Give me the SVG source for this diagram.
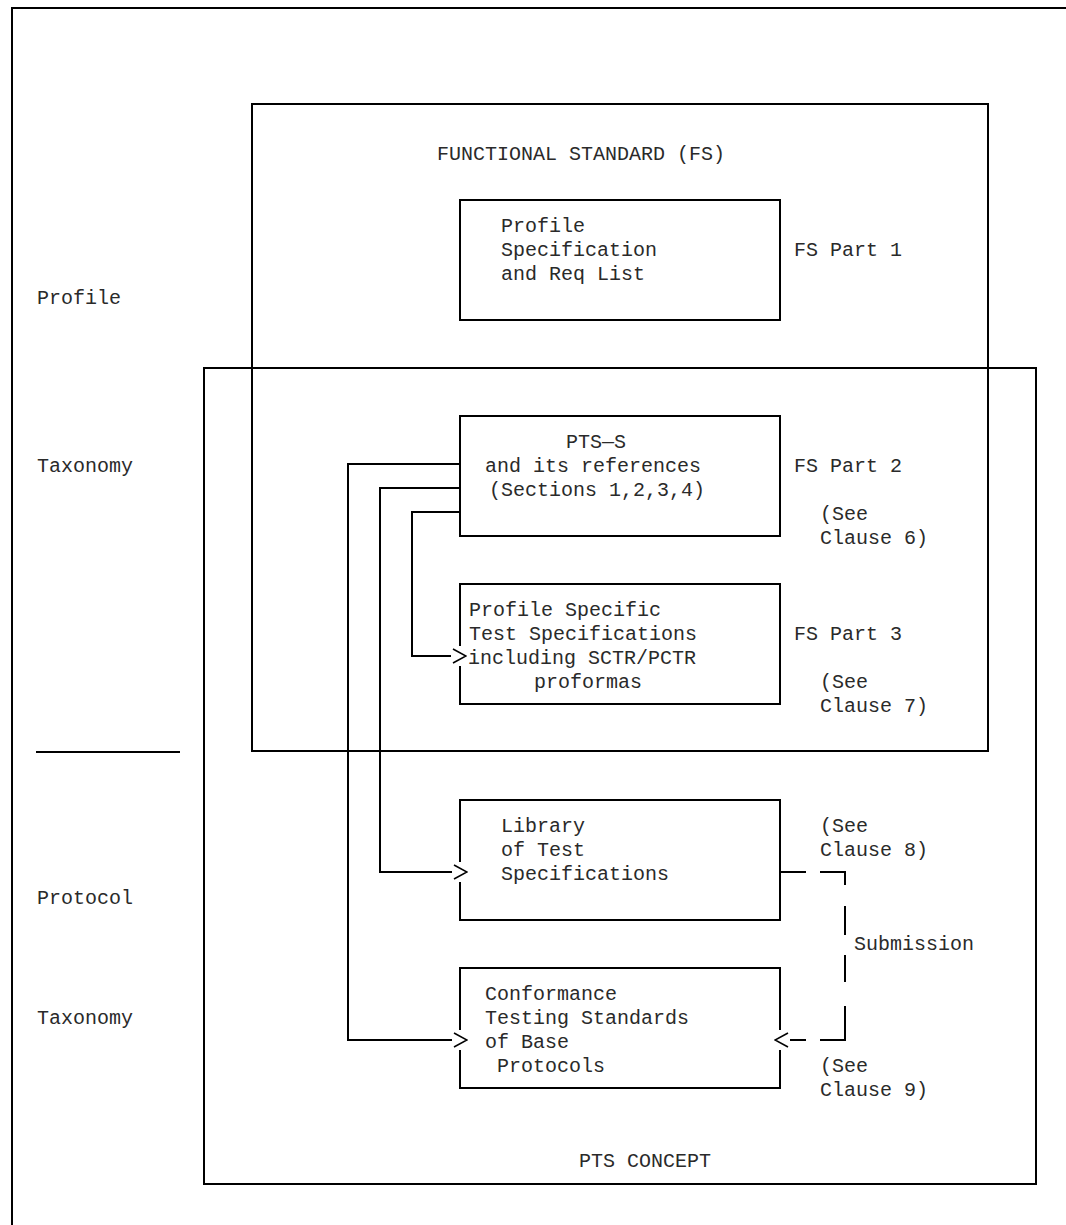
<svg xmlns="http://www.w3.org/2000/svg" width="1066" height="1225" viewBox="0 0 1066 1225">
<style>
.ln{fill:none;stroke:#000;stroke-width:2}
.t{font-family:"Liberation Mono","DejaVu Sans Mono",monospace;font-size:20px;fill:#2a2a2a}
</style>
<defs>
<marker id="chev" markerUnits="userSpaceOnUse" markerWidth="16" markerHeight="16" viewBox="0 0 16 16" refX="0" refY="8" orient="auto">
<path d="M2,1 L15,8 L2,15" fill="none" stroke="#000" stroke-width="1.6"/>
</marker>
</defs>
<rect width="1066" height="1225" fill="#fff"/>
<g id="frame">
<path class="ln" d="M12,1225 L12,8 L1066,8"/>
<path class="ln" d="M36,752 L180,752"/>
<text class="t" x="37" y="304">Profile</text>
<text class="t" x="37" y="472">Taxonomy</text>
<text class="t" x="37" y="904">Protocol</text>
<text class="t" x="37" y="1024">Taxonomy</text>
</g>
<g id="fs">
<rect class="ln" x="252" y="104" width="736" height="647"/>
<text class="t" x="437" y="160">FUNCTIONAL STANDARD (FS)</text>
</g>
<g id="pts-concept">
<rect class="ln" x="204" y="368" width="832" height="816"/>
<text class="t" x="579" y="1167">PTS CONCEPT</text>
</g>
<g id="profile-spec">
<rect class="ln" x="460" y="200" width="320" height="120"/>
<text class="t" x="501" y="232">Profile</text>
<text class="t" x="501" y="256">Specification</text>
<text class="t" x="501" y="280">and Req List</text>
<text class="t" x="794" y="256">FS Part 1</text>
</g>
<g id="pts-s">
<rect class="ln" x="460" y="416" width="320" height="120"/>
<text class="t" x="566" y="448">PTS—S</text>
<text class="t" x="485" y="472">and its references</text>
<text class="t" x="489" y="496">(Sections 1,2,3,4)</text>
<text class="t" x="794" y="472">FS Part 2</text>
<text class="t" x="820" y="520">(See</text>
<text class="t" x="820" y="544">Clause 6)</text>
</g>
<g id="psts">
<path class="ln" d="M460,646 L460,584 L780,584 L780,704 L460,704 L460,666"/>
<text class="t" x="469" y="616">Profile Specific</text>
<text class="t" x="469" y="640">Test Specifications</text>
<text class="t" x="468" y="664">including SCTR/PCTR</text>
<text class="t" x="534" y="688">proformas</text>
<text class="t" x="794" y="640">FS Part 3</text>
<text class="t" x="820" y="688">(See</text>
<text class="t" x="820" y="712">Clause 7)</text>
</g>
<g id="library">
<path class="ln" d="M460,862 L460,800 L780,800 L780,920 L460,920 L460,882"/>
<text class="t" x="501" y="832">Library</text>
<text class="t" x="501" y="856">of Test</text>
<text class="t" x="501" y="880">Specifications</text>
<text class="t" x="820" y="832">(See</text>
<text class="t" x="820" y="856">Clause 8)</text>
</g>
<g id="conformance">
<path class="ln" d="M460,1030 L460,968 L780,968 L780,1030 M780,1050 L780,1088 L460,1088 L460,1050"/>
<text class="t" x="485" y="1000">Conformance</text>
<text class="t" x="485" y="1024">Testing Standards</text>
<text class="t" x="485" y="1048">of Base</text>
<text class="t" x="497" y="1072">Protocols</text>
<text class="t" x="820" y="1072">(See</text>
<text class="t" x="820" y="1096">Clause 9)</text>
</g>
<g id="connectors">
<path class="ln" d="M460,464 L348,464 L348,1040 L452,1040" marker-end="url(#chev)"/>
<path class="ln" d="M460,488 L380,488 L380,872 L452,872" marker-end="url(#chev)"/>
<path class="ln" d="M460,512 L412,512 L412,656 L451,656" marker-end="url(#chev)"/>
<path class="ln" d="M780,872 L806,872 M820,872 L845,872 L845,885 M845,906 L845,935 M845,955 L845,982 M845,1006 L845,1040 L820,1040"/>
<path class="ln" d="M806,1040 L790,1040" marker-end="url(#chev)"/>
<text class="t" x="854" y="950">Submission</text>
</g>
</svg>
